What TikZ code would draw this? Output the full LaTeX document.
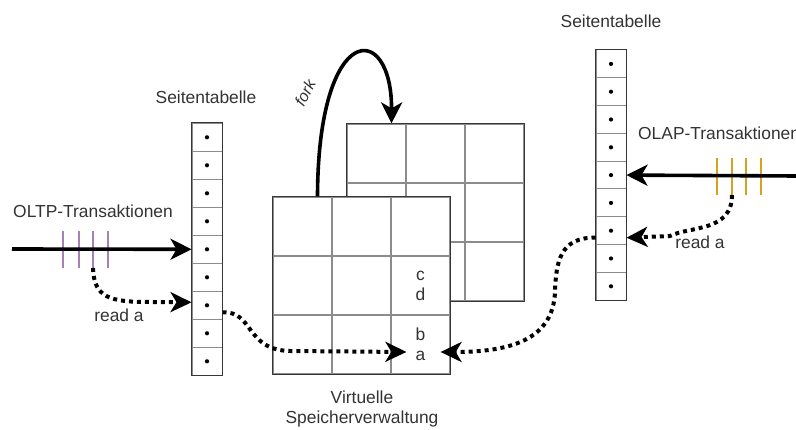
\documentclass[tikz,border=0pt]{standalone}
\usepackage{fontspec}
\setmainfont{Liberation Sans}
\usetikzlibrary{arrows.meta}
\definecolor{txt}{RGB}{51,51,51}
\definecolor{ticpurple}{RGB}{166,128,184}
\definecolor{ticorange}{RGB}{215,160,30}
\definecolor{gridin}{RGB}{140,140,140}
\definecolor{gridout}{RGB}{55,55,55}
\begin{document}
\begin{tikzpicture}[x=1pt,y=-1pt,
  lbl/.style={text=txt,font=\fontsize{17.4}{20}\selectfont,inner sep=0pt,align=center},
  ptcell/.style={draw=gridin,line width=1pt,minimum width=30pt,minimum height=28pt,inner sep=0pt,fill=white},
  ptcellr/.style={ptcell,minimum height=27.8pt},
  ptframe/.style={draw=gridout,line width=1.4pt},
  gcell/.style={draw=gridin,line width=1.2pt,minimum size=59pt,inner sep=0pt,fill=white},
  gframe/.style={draw=gridout,line width=1.5pt},
  bigarrow/.style={line width=3.6pt,-{Stealth[length=21pt,width=21pt,inset=6pt]}},
  dotarrow/.style={line width=4pt,dash pattern=on 4pt off 4pt,-{Stealth[length=21pt,width=20pt,inset=6pt]}},
  tickline/.style={line width=2.6pt},
  ptdot/.style={circle,fill=black,inner sep=0pt,minimum size=4.2pt}
]
\useasboundingbox (0,0) rectangle (796,430);

% back grid
\foreach \r/\y in {1/153.5,2/212.5,3/271.5}{
  \foreach \c/\x in {1/376.5,2/435.5,3/494.5}{
    \node[gcell] (B\r\c) at (\x,\y) {};
  }
}
\draw[gframe] (B11.north west) rectangle (B33.south east);

% front grid
\foreach \r/\y in {1/226.5,2/285.5,3/344.5}{
  \foreach \c/\x in {1/302.5,2/361.5,3/420.5}{
    \node[gcell] (F\r\c) at (\x,\y) {};
  }
}
\draw[gframe] (F11.north west) rectangle (F33.south east);
\node[lbl] (cd) at (F23) {c\\d};
\node[lbl] (ba) at (F33) {b\\a};

% left page table
\foreach \i in {1,...,9}{
  \node[ptcell] (L\i) at (207,{137.3+28*(\i-1)}) {};
  \node[ptdot] (dL\i) at (L\i) {};
}
\draw[ptframe] (L1.north west) rectangle (L9.south east);

% right page table
\foreach \i in {1,...,9}{
  \node[ptcellr] (R\i) at (611,{63.9+27.8*(\i-1)}) {};
  \node[ptdot] (dR\i) at (R\i) {};
}
\draw[ptframe] (R1.north west) rectangle (R9.south east);

% labels
\node[lbl] (stl) at (206,97) {Seitentabelle};
\node[lbl] (str) at (611,21) {Seitentabelle};
\node[lbl] (oltp) at (93,211) {OLTP-Transaktionen};
\node[lbl,anchor=west] (olap) at (638,133) {OLAP-Transaktionen};
\node[lbl] (vsv) at (362,409) {Virtuelle\\Speicherverwaltung};
\node[lbl] (rda1) at (119,315) {read a};
\node[lbl] (rda2) at (700,242) {read a};
\node[lbl,rotate=62,font=\fontsize{16}{18}\selectfont\itshape] (forklbl) at (305,93) {fork};

% OLTP ticks and arrow
\foreach \n/\x in {1/63,2/79,3/93,4/108}{
  \draw[tickline,ticpurple] (\x,231) -- (\x,268);
  \coordinate (p\n) at (\x,268);
}
\coordinate (oltpsrc) at (12,249);
\draw[bigarrow] (oltpsrc) -- (L5.west);

% OLAP ticks and arrow
\foreach \n/\x in {1/717,2/732,3/746,4/761}{
  \draw[tickline,ticorange] (\x,158) -- (\x,195);
  \coordinate (o\n) at (\x,195);
}
\coordinate (olapsrc) at (796,176);
\draw[bigarrow] (olapsrc) -- (R5.east);

% fork
\draw[bigarrow] ([xshift=15pt]F11.north) .. controls (318,20) and (392,20) .. ([xshift=15pt]B11.north);

% dotted read connectors
\draw[dotarrow] (p3) .. controls (94,298) and (110,302) .. (150,302) -- ([yshift=3pt]L7.west);
\draw[dotarrow] ([yshift=-7pt]L7.east) .. controls (254,311) and (245,350) .. (290,351) -- ([shift={(16pt,-7.5pt)}]F33.west);
\draw[dotarrow] (o2) .. controls (732,232) and (690,226) .. (670,236) -- ([yshift=-7pt]R7.east);
\draw[dotarrow] ([yshift=-7pt]R7.west) .. controls (560,237) and (556,262) .. (555,292) .. controls (553,340) and (510,352) .. ([shift={(-10pt,-7.5pt)}]F33.east);
\end{tikzpicture}
\end{document}
